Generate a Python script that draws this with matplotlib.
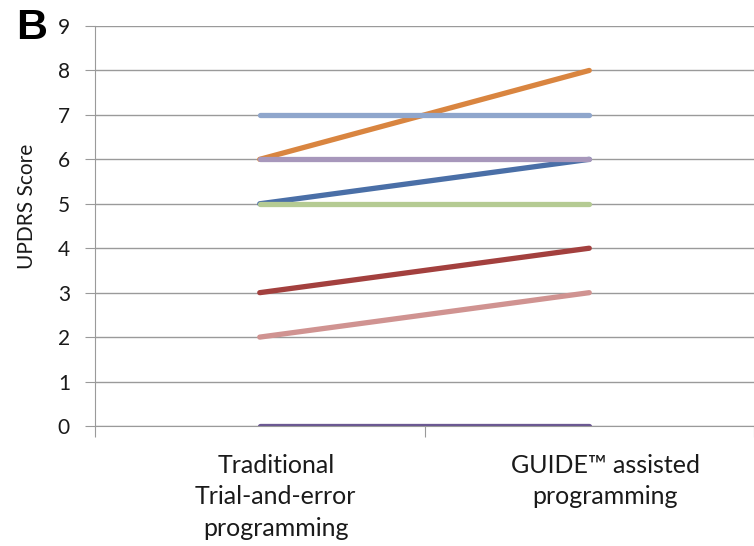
import matplotlib
matplotlib.use("Agg")
import matplotlib.pyplot as plt
from matplotlib.transforms import ScaledTranslation

# categories and scores per subject (before / after)
categories = ["Traditional\nTrial-and-error\nprogramming", "GUIDE™ assisted\nprogramming"]
traditional = [5, 3, 5, 6, 7, 6, 2, 0]
guide = [6, 4, 5, 8, 7, 6, 3, 0]
colors = ["#4a6fa7", "#a3403e", "#b5cb93", "#d98540", "#8fa6cc", "#a797bb", "#d09391", "#6b5892"]

plt.rcParams['font.family'] = ['Lato', 'DejaVu Sans']

fig = plt.figure(figsize=(7.54, 5.46), dpi=100)
ax = fig.add_axes([95 / 754, 1 - 426 / 546, 659 / 754, 400 / 546])

for t, g, c in zip(traditional, guide, colors):
    ax.plot([1, 2], [t, g], color=c, lw=3.8, solid_capstyle="round", zorder=3)

ax.set_xlim(0.5, 2.456)
ax.set_ylim(0, 9)
ax.set_yticks(range(10))
ax.grid(axis="y", color="#9a9a9a", lw=1.0)
ax.set_axisbelow(True)

for s in ["top", "right"]:
    ax.spines[s].set_visible(False)
ax.spines["left"].set_color("#9a9a9a")
ax.spines["bottom"].set_color("#9a9a9a")

ax.tick_params(axis="y", length=7, color="#9a9a9a", pad=11, labelsize=15, labelcolor="#1a1a1a")
ax.set_xticks([0.5, 1.5, 2.5])
ax.set_xticklabels([])
ax.tick_params(axis="x", which="major", length=8, color="#9a9a9a")

ax.set_xticks([1, 2], minor=True)
ax.set_xticklabels(categories, minor=True, fontsize=18, color="#1a1a1a", linespacing=1.45)
ax.tick_params(axis="x", which="minor", length=0, pad=20)
for lab in ax.get_xticklabels(minor=True):
    lab.set_transform(lab.get_transform() + ScaledTranslation(16 / 100, 0, fig.dpi_scale_trans))

ax.set_ylabel("UPDRS Score", fontsize=15, color="#1a1a1a")
ax.yaxis.set_label_coords(-0.088, 0.55)

fig.text(16 / 754, 1 - 8 / 546, "B", fontsize=31, fontweight="bold", va="top", ha="left",
         family="Liberation Sans")

fig.savefig("out.png", dpi=100)
